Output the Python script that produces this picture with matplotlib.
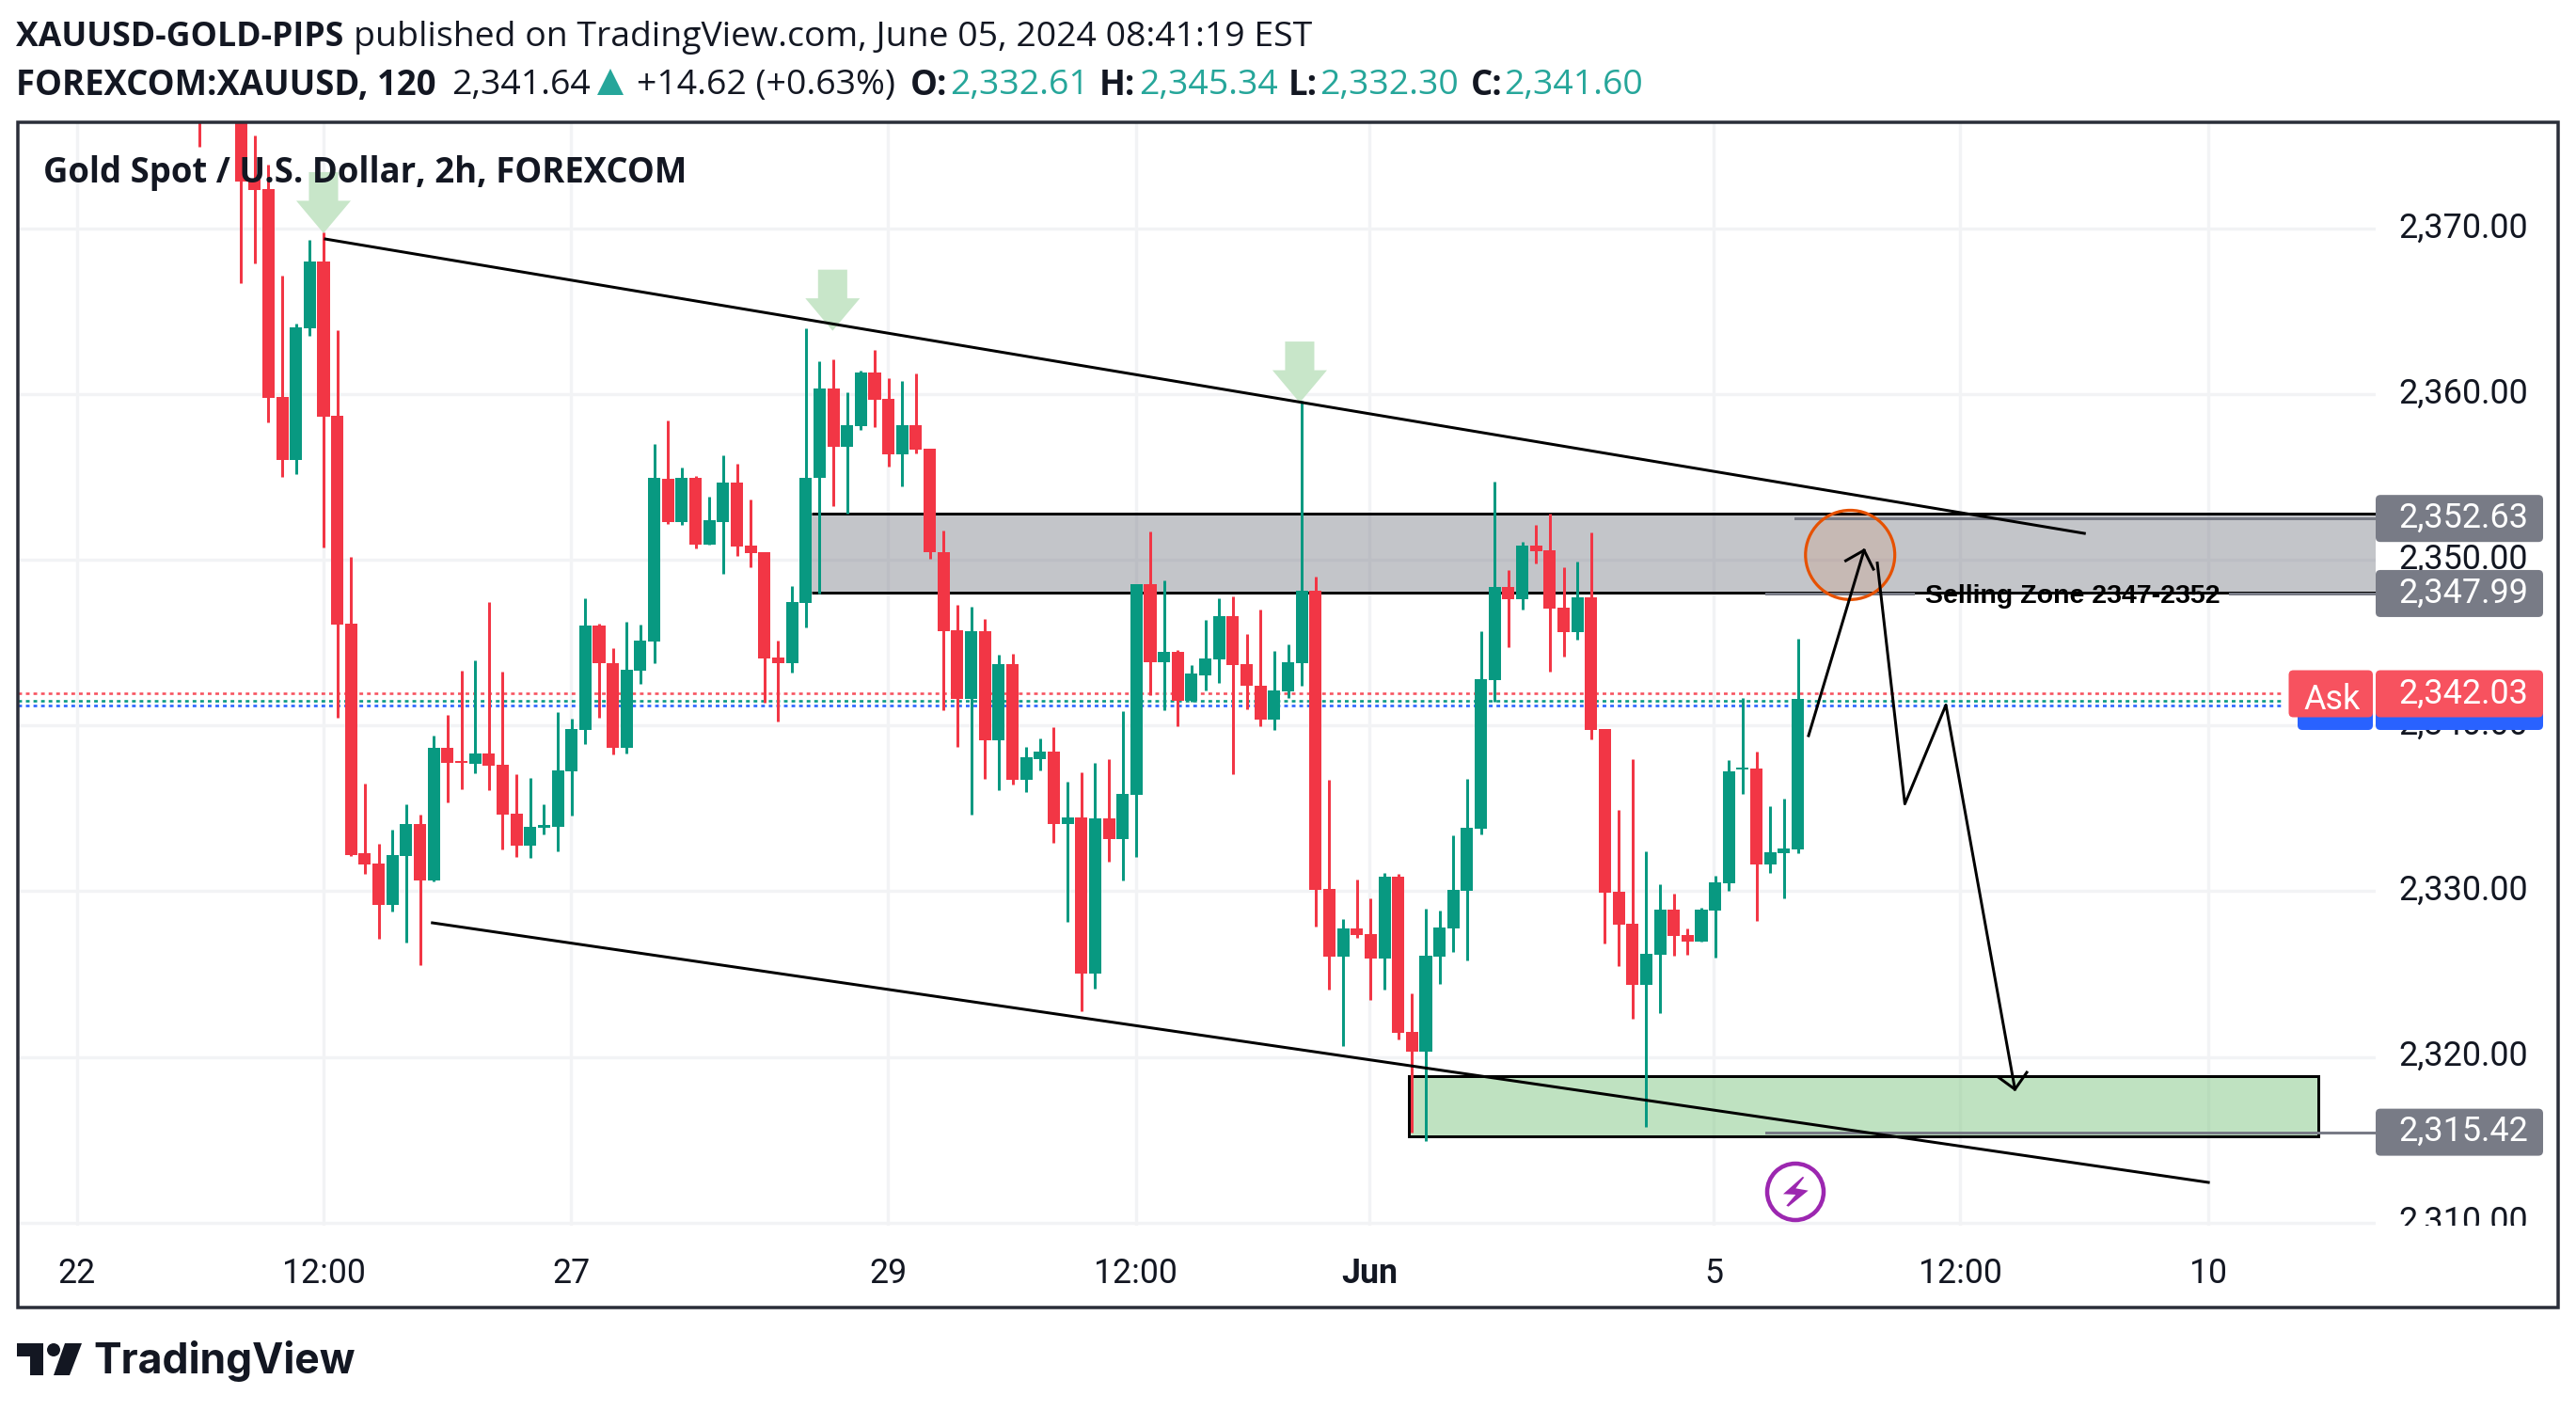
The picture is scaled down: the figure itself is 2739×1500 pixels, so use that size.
import numpy as np
import matplotlib
matplotlib.use("Agg")
import matplotlib.pyplot as plt
from matplotlib.patches import Rectangle, Polygon, Ellipse, Circle, FancyBboxPatch

# bar number 0 is the 12:00 candle under the first green arrow, 2h bars
first_bar = -9
opens = [2378.0, 2380.0, 2380.0, 2378.0, 2372.93, 2372.39, 2359.86, 2356.01, 2363.99, 2368.01,
         2358.70, 2346.16, 2332.28, 2331.67, 2329.17, 2332.10, 2334.06, 2330.65, 2338.66, 2337.86,
         2337.68, 2338.30, 2337.61, 2334.67, 2332.75, 2333.84, 2333.91, 2337.21, 2339.71, 2346.05,
         2343.77, 2338.66, 2343.30, 2345.07,
         2354.89, 2352.31, 2354.98, 2350.91, 2352.31, 2354.66, 2350.84, 2350.45, 2344.10, 2343.74,
         2347.39, 2354.95, 2360.33, 2356.81, 2358.05, 2361.31, 2359.71, 2356.35, 2358.11, 2356.71,
         2350.45, 2345.73, 2341.59, 2345.69, 2339.11, 2343.71, 2336.70, 2338.00, 2338.43, 2334.03,
         2334.45, 2325.00, 2334.38, 2333.15, 2335.79, 2348.56, 2343.80, 2344.42, 2341.49, 2343.05,
         2343.97, 2346.61, 2343.71, 2342.43, 2340.35, 2342.04, 2343.74, 2348.14,
         2330.14, 2326.03, 2327.74, 2327.42, 2325.94, 2330.87, 2321.51, 2320.29, 2326.06, 2327.74,
         2330.03, 2333.77, 2342.75, 2348.38, 2347.62, 2350.87, 2350.58, 2347.13, 2345.65, 2347.74,
         2339.80, 2329.97, 2328.03, 2324.35, 2326.17, 2328.90, 2327.36, 2326.96, 2328.84, 2330.49,
         2337.33, 2337.42, 2331.62, 2332.32, 2332.52]
highs = [2380.0, 2382.0, 2382.0, 2379.0, 2375.65, 2373.84, 2367.14, 2364.28, 2369.31, 2369.78,
         2363.88, 2350.18, 2336.49, 2332.86, 2333.70, 2335.25, 2334.60, 2339.38, 2340.65, 2343.30,
         2343.91, 2347.46, 2343.26, 2337.07, 2336.81, 2335.25, 2340.80, 2340.40, 2347.68, 2346.16,
         2344.67, 2346.27, 2346.09, 2356.99,
         2358.41, 2355.57, 2355.05, 2353.81, 2356.29, 2355.83, 2353.65, 2350.45, 2345.11, 2348.40,
         2363.98, 2361.99, 2362.09, 2360.10, 2361.40, 2362.68, 2360.95, 2360.79, 2361.24, 2356.71,
         2351.76, 2347.26, 2347.16, 2346.41, 2344.26, 2344.33, 2338.69, 2339.21, 2339.89, 2336.60,
         2337.15, 2337.74, 2338.00, 2340.87, 2348.56, 2351.69, 2348.79, 2344.55, 2343.64, 2346.38,
         2347.68, 2347.78, 2345.50, 2347.00, 2344.49, 2344.88, 2359.58, 2348.99,
         2336.72, 2328.32, 2330.70, 2329.57, 2331.10, 2331.04, 2323.83, 2328.96, 2328.84, 2333.39,
         2336.78, 2345.71, 2354.70, 2349.39, 2351.10, 2352.12, 2352.81, 2349.57, 2349.91, 2351.68,
         2339.80, 2334.90, 2337.97, 2332.41, 2330.43, 2329.86, 2327.74, 2329.01, 2330.93, 2337.91,
         2341.65, 2338.43, 2335.13, 2335.59, 2345.22]
lows = [2374.93, 2378.0, 2378.0, 2366.70, 2367.90, 2358.30, 2355.00, 2355.18, 2363.51, 2350.76,
        2340.47, 2332.10, 2331.05, 2327.10, 2328.80, 2326.88, 2325.51, 2330.58, 2335.36, 2336.16,
        2337.10, 2336.09, 2332.50, 2332.07, 2331.99, 2333.41, 2332.39, 2334.57, 2338.88, 2340.47,
        2338.26, 2338.30, 2342.50, 2343.77,
        2352.18, 2352.12, 2350.68, 2350.91, 2349.15, 2350.23, 2349.54, 2341.39, 2340.22, 2343.18,
        2345.92, 2347.98, 2353.22, 2352.80, 2357.82, 2358.01, 2355.64, 2354.43, 2356.42, 2350.06,
        2340.94, 2338.69, 2334.61, 2336.76, 2336.08, 2336.44, 2335.98, 2337.28, 2332.92, 2328.13,
        2322.75, 2324.12, 2331.78, 2330.64, 2332.07, 2341.85, 2340.90, 2339.96, 2341.42, 2342.11,
        2342.57, 2337.06, 2341.00, 2339.96, 2339.73, 2341.65, 2342.40, 2327.87,
        2324.06, 2320.64, 2327.19, 2323.45, 2324.06, 2321.04, 2315.45, 2314.93, 2324.41, 2326.32,
        2325.80, 2333.42, 2341.45, 2344.75, 2347.01, 2349.80, 2343.28, 2344.17, 2345.19, 2339.16,
        2326.84, 2325.48, 2322.29, 2315.77, 2322.64, 2326.12, 2326.17, 2326.96, 2326.00, 2330.03,
        2335.88, 2328.20, 2331.10, 2329.57, 2332.32]
closes = [2377.0, 2379.0, 2379.0, 2372.86, 2372.32, 2359.78, 2356.01, 2364.06, 2368.01, 2358.66,
          2346.09, 2332.17, 2331.63, 2329.17, 2332.17, 2334.06, 2330.65, 2338.66, 2337.75, 2337.72,
          2338.30, 2337.57, 2334.60, 2332.75, 2333.88, 2333.99, 2337.28, 2339.78, 2346.05, 2343.77,
          2338.66, 2343.37, 2345.11, 2354.96,
          2352.31, 2354.98, 2350.91, 2352.38, 2354.66, 2350.78, 2350.39, 2344.03, 2343.74, 2347.45,
          2354.98, 2360.33, 2356.81, 2358.11, 2361.31, 2359.64, 2356.35, 2358.11, 2356.65, 2350.45,
          2345.69, 2341.59, 2345.69, 2339.11, 2343.71, 2336.70, 2338.07, 2338.43, 2334.03, 2334.45,
          2325.00, 2334.38, 2333.15, 2335.85, 2348.56, 2343.80, 2344.42, 2341.49, 2343.12, 2344.03,
          2346.61, 2343.64, 2342.40, 2340.35, 2342.11, 2343.80, 2348.14, 2330.08,
          2326.03, 2327.74, 2327.36, 2325.94, 2330.87, 2321.45, 2320.29, 2326.12, 2327.80, 2330.09,
          2333.83, 2342.81, 2348.38, 2347.62, 2350.87, 2350.52, 2347.07, 2345.65, 2347.74, 2339.74,
          2329.91, 2327.97, 2324.35, 2326.23, 2328.90, 2327.30, 2326.96, 2328.90, 2330.55, 2337.25,
          2337.48, 2331.62, 2332.35, 2332.58, 2341.59]

price_ticks = [2310, 2320, 2330, 2340, 2350, 2360, 2370]
price_labels = ["2,310.00", "2,320.00", "2,330.00", "2,340.00", "2,350.00", "2,360.00", "2,370.00"]
time_bars = [-17.9, 0, 17.95, 40.96, 58.95, 75.9, 100.9, 118.8, 136.8]
time_labels = ["22", "12:00", "27", "29", "12:00", "Jun", "5", "12:00", "10"]

upper_bars, upper_prices = [0.14, 127.8], [2369.37, 2351.6]
lower_bars, lower_prices = [7.9, 136.8], [2328.09, 2312.42]
sell_zone = (35.4, 148.94, 2348.02, 2352.79)
buy_zone = (78.8, 144.8, 2315.2, 2318.83)
marker_bars = [0, 36.95, 70.85]
marker_prices = [2369.72, 2363.83, 2359.49]
up_path_bars = [107.78, 111.81]
up_path_prices = [2339.39, 2350.58]
up_head_bars = [110.48, 111.81, 112.49]
up_head_prices = [2349.95, 2350.58, 2349.44]
down_path_bars = [112.77, 114.77, 117.75, 122.76]
down_path_prices = [2349.81, 2335.27, 2341.24, 2318.04]
down_head_bars = [121.54, 122.76, 123.62]
down_head_prices = [2318.78, 2318.04, 2319.06]
ask_price, close_price, bid_price = 2341.94, 2341.49, 2341.2

RED = "#f23645"
GREEN = "#089981"
INK = "#131722"
TEAL = "#26a69a"
FONT = "Open Sans"
SCALE_FONT = "Roboto"
W, H = 2739, 1500
px = 72 / 100  # points per image pixel

fig = plt.figure(figsize=(W / 100, H / 100), dpi=100)
L, R, T, B = 19, 2526, 130, 1303
ax = fig.add_axes([L / W, 1 - B / H, (R - L) / W, (B - T) / H])
ax.set_xlim((L - 344) / 14.65, (R - 344) / 14.65)
ax.set_ylim(2330 - (B - 947.4) / 17.61, 2330 + (947.4 - T) / 17.61)
for s in ax.spines.values():
    s.set_visible(False)
ax.set_xticks(time_bars)
ax.set_xticklabels(time_labels, fontsize=25.7, family=SCALE_FONT, color=INK)
ax.get_xticklabels()[5].set_fontweight("bold")
ax.set_yticks(price_ticks)
ax.set_yticklabels([])
ax.tick_params(length=0, pad=24)
ax.grid(True, color="#f2f3f5", lw=3.4 * px)
ax.set_axisbelow(True)

# zones go under the candles
x0, x1, y0, y1 = sell_zone
ax.add_patch(Rectangle((x0, y0), x1 - x0, y1 - y0, fc="#787b86", alpha=0.44, ec="none", zorder=2))
ax.plot([x0, x1], [y0, y0], color="black", lw=3 * px, zorder=2.1, solid_capstyle="butt")
ax.plot([x0, x1], [y1, y1], color="black", lw=3 * px, zorder=2.1, solid_capstyle="butt")
x0, x1, y0, y1 = buy_zone
ax.add_patch(Rectangle((x0, y0), x1 - x0, y1 - y0, fc="#81c784", alpha=0.5, ec="none", zorder=2))
ax.add_patch(Rectangle((x0, y0), x1 - x0, y1 - y0, fc="none", ec="black", lw=3 * px, zorder=2.1))

bars = np.arange(len(opens)) + first_bar
up = np.array(closes) >= np.array(opens)
colors = np.where(up, GREEN, RED)
ax.vlines(bars, lows, highs, colors=colors, lw=3 * px, zorder=3)
ax.bar(bars, np.array(closes) - np.array(opens), bottom=opens, width=0.89, color=colors, lw=0, zorder=3)

# last price lines
for p, c in zip([ask_price, close_price, bid_price], ["#f7525f", GREEN, "#2962ff"]):
    ax.plot([ax.get_xlim()[0], (2428 - 344) / 14.65], [p, p], color=c, lw=2.6 * px,
            ls=(0, (1.5, 1.6)), zorder=2.5)

# drawings
for b, p in zip(marker_bars, marker_prices):
    pts = [(b, p), (b - 1.98, p + 1.96), (b - 1.06, p + 1.96), (b - 1.06, p + 3.69),
           (b + 1.06, p + 3.69), (b + 1.06, p + 1.96), (b + 1.98, p + 1.96)]
    ax.add_patch(Polygon(pts, fc="#c8e6c9", ec="none", zorder=2.8))
ax.plot(upper_bars, upper_prices, color="black", lw=3 * px, zorder=5)
ax.plot(lower_bars, lower_prices, color="black", lw=3 * px, zorder=5)
ax.add_patch(Ellipse((110.8, 2350.3), 6.48, 5.39, fc="#e65100", alpha=0.1, ec="none", zorder=4))
ax.add_patch(Ellipse((110.8, 2350.3), 6.48, 5.39, fc="none", ec="#e65100", lw=3.2 * px, zorder=5))
for xs, ys in [(up_path_bars, up_path_prices), (up_head_bars, up_head_prices),
               (down_path_bars, down_path_prices), (down_head_bars, down_head_prices)]:
    ax.plot(xs, ys, color="black", lw=3 * px, zorder=6)
ax.plot([(1878 - 344) / 14.65, (2034 - 344) / 14.65], [2347.97, 2347.97], color="#787b86", lw=3 * px, zorder=4)
ax.plot([(2371 - 344) / 14.65, ax.get_xlim()[1]], [2347.97, 2347.97], color="#787b86", lw=3 * px, zorder=4)
ax.plot([(1909 - 344) / 14.65, ax.get_xlim()[1]], [2352.5, 2352.5], color="#787b86", lw=3 * px, zorder=4)
ax.plot([(1878 - 344) / 14.65, ax.get_xlim()[1]], [2315.45, 2315.45], color="#787b86", lw=3 * px, zorder=4)
ax.text((2047 - 344) / 14.65, 2347.97 - 3 / 17.61, "Selling Zone 2347-2352", family="Liberation Sans", weight="bold",
        fontsize=20.5, color="black", va="center", ha="left", zorder=7)

# price scale, its own axes so the last label gets cut at the pane edge
sc = fig.add_axes([R / W, 1 - B / H, 195 / W, (B - T) / H], sharey=ax)
sc.axis("off")
for p, lab in zip(price_ticks, price_labels):
    sc.text(2688, p + 0.5 / 17.61, lab, family=SCALE_FONT, fontsize=25.9, color=INK, ha="right",
            va="center", clip_on=True, transform=matplotlib.transforms.blended_transform_factory(
                matplotlib.transforms.IdentityTransform(), sc.transData))

# page layer in image pixels: frame, header, tags, logo
pg = fig.add_axes([0, 0, 1, 1], zorder=10)
pg.set_xlim(0, W)
pg.set_ylim(H, 0)
pg.axis("off")
pg.patch.set_alpha(0)
pg.add_patch(Rectangle((19, 130), 2701, 1260, fc="none", ec="#2a2e39", lw=3.5 * px))


def tag(x0, x1, yc, color, h=50, z=1):
    pg.add_patch(FancyBboxPatch((x0 + 4, yc - h / 2 + 4), x1 - x0 - 8, h - 8, boxstyle="round,pad=4,rounding_size=5",
                                fc=color, ec="none", mutation_aspect=1, zorder=z))


def to_y(price):
    return 947.4 - (price - 2330) * 17.61


# bid tag sits behind the ask tag
tag(2443, 2523, 751, "#2962ff", z=0.5)
tag(2526, 2704, 751, "#2962ff", z=0.5)
pg.text(2483, 750, "Bid", family=SCALE_FONT, fontsize=25.9, color="white", ha="center", va="center", zorder=0.6)
tag(2433.5, 2523, 737.5, "#f7525f", z=0.7)
tag(2526, 2704, 737.5, "#f7525f", z=0.7)
pg.text(2480, 744, "Ask", family=SCALE_FONT, fontsize=25.9, color="white", ha="center", va="center")
pg.text(2688, 737.5, "2,342.03", family=SCALE_FONT, fontsize=25.9, color="white", ha="right", va="center")
for p, lab in zip([2352.5, 2347.97, 2315.45], ["2,352.63", "2,347.99", "2,315.42"]):
    tag(2526, 2704, to_y(p), "#787b86")
    pg.text(2688, to_y(p) - 0.5, lab, family=SCALE_FONT, fontsize=25.9, color="white", ha="right", va="center")

# header rows
def head(x, y, s, color=INK, weight="normal", size=26.9):
    pg.text(x, y, s, family=FONT, fontsize=size, color=color, weight=weight, ha="left", va="center")


head(17, 40, "XAUUSD-GOLD-PIPS", weight="bold", size=25.7)
head(376, 40, "published on TradingView.com, June 05, 2024 08:41:19 EST")
head(17, 91, "FOREXCOM:XAUUSD, 120", weight="bold", size=26.3)
head(480, 91, "2,341.64")
pg.add_patch(Polygon([(635, 101), (649, 73), (663, 101)], fc=TEAL, ec="none"))
head(677, 91, "+14.62 (+0.63%)")
for x, lab in zip([968, 1169, 1370, 1564], ["O:", "H:", "L:", "C:"]):
    head(x, 91, lab, weight="bold", size=26.3)
for x, lab in zip([1010, 1211, 1403, 1599], ["2,332.61", "2,345.34", "2,332.30", "2,341.60"]):
    head(x, 91, lab, color=TEAL)
head(46, 184, "Gold Spot / U.S. Dollar, 2h, FOREXCOM", weight="bold", size=26.3)

# news icon
pg.add_patch(Circle((1909, 1267), 30, fc="white", ec="#9c27b0", lw=4.5 * px))
bolt = np.array([(175, 95), (148, 130), (188, 137), (125, 188), (118, 185), (148, 150), (108, 148), (170, 93)]) / 3
pg.add_patch(Polygon(bolt + [1860, 1220], fc="#9c27b0", ec="none"))

# logo
pg.add_patch(Polygon([(18, 1428), (46, 1428), (46, 1462), (32, 1462), (32, 1442), (18, 1442)], fc=INK, ec="none"))
pg.add_patch(Circle((57, 1435), 7, fc=INK, ec="none"))
pg.add_patch(Polygon([(69, 1428), (87, 1428), (74, 1462), (57, 1462)], fc=INK, ec="none"))
pg.text(99, 1447, "TradingView", family="Inter", weight="bold", fontsize=32, color=INK, ha="left", va="center")

fig.savefig("out.png", dpi=100, facecolor="white")
